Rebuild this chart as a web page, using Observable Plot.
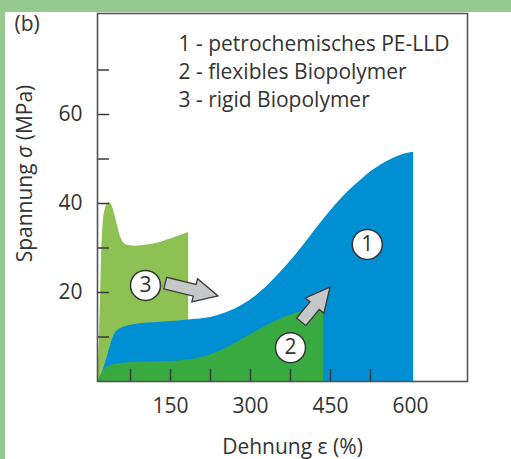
<!DOCTYPE html>
<html><head><meta charset="utf-8">
<script src="https://cdn.jsdelivr.net/npm/d3@7"></script>
<script src="https://cdn.jsdelivr.net/npm/@observablehq/plot@0.6"></script>
<style>
html,body{margin:0;padding:0;background:#95c98f;width:511px;height:459px;overflow:hidden}
#panel{position:absolute;left:5px;top:12px;width:506px;height:447px;background:#fff}
</style></head><body><div id="panel"></div>
<script>
// 3 - rigid Biopolymer
const rigidX = [13,15,17,19,21,24,28,32,36,41,46,51,56,62,70,85,103,129,159,184];
const rigidY = [0,4.7,11.5,20.4,29.4,36.0,38.8,40,40.2,39.2,37.2,34.8,32.6,31.2,30.6,30.4,30.6,31.2,32.4,33.5];
// 1 - petrochemisches PE-LLD
const peX = [15,21,26,32,38,43,51,60,84,131,188,225,253,281,300,319,356,394,431,469,501,529,557,581,606];
const peY = [0,1.6,3.4,5.8,8.3,10.1,11.5,12.1,12.8,13.3,13.9,14.4,15.4,16.9,18.3,20.1,24.5,29.8,35.5,40.9,44.6,47.4,49.5,50.8,51.5];
// 2 - flexibles Biopolymer
const flexX = [13,17,23,28,38,56,94,150,180,206,234,263,291,319,356,394,437];
const flexY = [0,0.9,2.0,2.9,3.6,4.0,4.3,4.5,4.8,5.3,6.4,8.0,9.9,11.8,14.0,15.6,16.5];

const markerX = [519,375,103];
const markerY = [30.8,7.6,21.6];
const markerLabel = ["1","2","3"];

const arrowX1 = [141,396], arrowY1 = [22.0,13.3];
const arrowX2 = [240,450], arrowY2 = [19.1,21.1];

const legendText = ["1 - petrochemisches PE-LLD","2 - flexibles Biopolymer","3 - rigid Biopolymer"];
const legendY = [75.8,69.4,63.1];
const legendX = 165;

const xDomain = [13,707];
const yDomain = [0,82.7];
const xTicks = [75,150,225,300,375,450,525];
const xLabels = [150,300,450,600];
const yTicks = [10,20,30,40,50,60,70];
const yLabels = [20,40,60];
const xTitle = "Dehnung ε (%)";
const yTitle = "Spannung σ (MPa)";

const cRigid = "#8dc153", cPE = "#008fd3", cFlex = "#38aa3f", cInk = "#333333";

const toPts = (xs, ys) => xs.map((x, i) => ({x, y: ys[i]}));
const lineShape = {draw(context, l) { context.moveTo(0, 0); context.lineTo(0, -l); }};

function blockArrow(x1, y1, x2, y2) {
  const dx = x2 - x1, dy = y2 - y1, len = Math.hypot(dx, dy);
  const ux = dx / len, uy = dy / len, nx = -uy, ny = ux;
  const hl = 24, hw = 12, sw = 6;
  const bx = x2 - ux * hl, by = y2 - uy * hl;
  const p = [
    [x1 + nx * sw, y1 + ny * sw], [bx + nx * sw, by + ny * sw], [bx + nx * hw, by + ny * hw],
    [x2, y2], [bx - nx * hw, by - ny * hw], [bx - nx * sw, by - ny * sw], [x1 - nx * sw, y1 - ny * sw]
  ];
  return "M" + p.map(q => q.join(",")).join("L") + "Z";
}

const arrowIdx = arrowX1.map((_, i) => i);

const plot = Plot.plot({
  width: 506, height: 447,
  marginLeft: 92, marginRight: 44, marginTop: 1, marginBottom: 78,
  style: {fontFamily: "'Open Sans', sans-serif", fontSize: "21px", color: cInk, background: "transparent", overflow: "visible"},
  x: {domain: xDomain},
  y: {domain: yDomain},
  marks: [
    Plot.areaY(toPts(rigidX, rigidY), {x: "x", y: "y", fill: cRigid, curve: "monotone-x"}),
    Plot.areaY(toPts(peX, peY), {x: "x", y: "y", fill: cPE, curve: "monotone-x"}),
    Plot.areaY(toPts(flexX, flexY), {x: "x", y: "y", fill: cFlex, curve: "monotone-x"}),
    Plot.vector(yTicks, {x: xDomain[0], y: d => d, length: 11, rotate: 90, anchor: "start", shape: lineShape, stroke: "#3a3a3a", strokeWidth: 1.5}),
    Plot.vector(xTicks, {x: d => d, y: yDomain[0], length: 12, rotate: 0, anchor: "start", shape: lineShape, stroke: "#3a3a3a", strokeWidth: 1.5}),
    Plot.frame({stroke: "#555", strokeWidth: 1.6}),
    Plot.axisX({ticks: xLabels, tickSize: 0, tickPadding: 17, label: null}),
    Plot.axisY({ticks: yLabels, tickSize: 0, tickPadding: 15, label: null}),
    Plot.dot(arrowIdx, {
      x: i => arrowX1[i], y: i => arrowY1[i], r: 0,
      render: (index, scales) => {
        const g = d3.create("svg:g");
        for (const i of index) {
          g.append("path")
            .attr("d", blockArrow(scales.x(arrowX1[i]), scales.y(arrowY1[i]), scales.x(arrowX2[i]), scales.y(arrowY2[i])))
            .attr("fill", "#c6c7c8").attr("stroke", "#3a3a3a").attr("stroke-width", 1.3).attr("stroke-linejoin", "miter");
        }
        return g.node();
      }
    }),
    Plot.dot(markerLabel, {x: (d, i) => markerX[i], y: (d, i) => markerY[i], r: 15, fill: "white", stroke: "#333", strokeWidth: 1.5}),
    Plot.text(markerLabel, {x: (d, i) => markerX[i], y: (d, i) => markerY[i], text: d => d, fill: cInk, fontSize: 21}),
    Plot.text(legendText, {x: legendX, y: (d, i) => legendY[i], text: d => d, textAnchor: "start", fill: cInk}),
    Plot.text([xTitle], {frameAnchor: "bottom", text: d => d, dy: 66, dx: 10, textAnchor: "middle", lineAnchor: "middle", fill: cInk}),
    Plot.text([yTitle], {frameAnchor: "left", text: d => d, rotate: -90, dx: -72, dy: -24, textAnchor: "middle", lineAnchor: "middle", fill: cInk}),
    Plot.text(["(b)"], {frameAnchor: "top-left", text: d => d, dx: -83, dy: 11, textAnchor: "start", lineAnchor: "middle", fill: cInk})
  ]
});

plot.querySelectorAll("text").forEach(t => {
  if (t.textContent === yTitle) {
    const ns = "http://www.w3.org/2000/svg";
    t.textContent = "";
    const parts = [["Spannung ", false], ["σ", true], [" (MPa)", false]];
    for (const [s, it] of parts) {
      const ts = document.createElementNS(ns, "tspan");
      ts.textContent = s;
      if (it) ts.setAttribute("font-style", "italic");
      t.appendChild(ts);
    }
  }
});

document.getElementById("panel").appendChild(plot);
</script>
</body></html>
